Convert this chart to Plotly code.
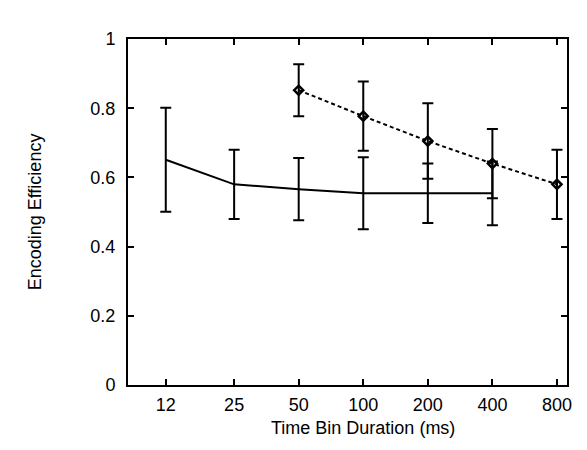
import numpy as np
import plotly.graph_objects as go

# Data
solid_x = [12, 25, 50, 100, 200, 400]
solid_y = [0.651, 0.580, 0.566, 0.554, 0.554, 0.554]
solid_err = [0.150, 0.100, 0.090, 0.104, 0.086, 0.092]

dashed_x = [50, 100, 200, 400, 800]
dashed_y = [0.852, 0.777, 0.705, 0.640, 0.580]
dashed_err = [0.075, 0.100, 0.109, 0.100, 0.100]

tick_vals = [12, 25, 50, 100, 200, 400, 800]
tick_text = ["12", "25", "50", "100", "200", "400", "800"]
y_ticks = [0, 0.2, 0.4, 0.6, 0.8, 1]
y_tick_text = ["0", "0.2", "0.4", "0.6", "0.8", "1"]

x_title = "Time Bin Duration (ms)"
y_title = "Encoding Efficiency"

FONT = "Liberation Sans, Arial, sans-serif"

fig = go.Figure()
fig.add_trace(go.Scatter(
    x=solid_x, y=solid_y, mode="lines",
    line=dict(color="black", width=2),
    error_y=dict(type="data", array=solid_err, visible=True,
                 color="black", thickness=2, width=5.5),
    showlegend=False,
))
fig.add_trace(go.Scatter(
    x=dashed_x, y=dashed_y, mode="lines+markers",
    line=dict(color="black", width=2, dash="4px,3px"),
    marker=dict(symbol="diamond-open", size=7, color="black",
                line=dict(color="black", width=2.5)),
    error_y=dict(type="data", array=dashed_err, visible=True,
                 color="black", thickness=2, width=5.5),
    showlegend=False,
))

fig.update_layout(
    width=587, height=450,
    margin=dict(l=120, r=28, t=31, b=73),
    paper_bgcolor="white", plot_bgcolor="white",
    font=dict(family=FONT, size=18, color="black"),
    annotations=[
        dict(text=x_title, xref="paper", yref="paper", x=0.535, y=-0.124,
             xanchor="center", yanchor="middle", showarrow=False,
             font=dict(family=FONT, size=18, color="black")),
        dict(text=y_title, xref="paper", yref="paper", x=-0.211, y=0.5,
             xanchor="center", yanchor="middle", textangle=-90,
             showarrow=False,
             font=dict(family=FONT, size=18, color="black")),
    ],
)
fig.update_xaxes(
    type="log", range=[np.log10(8.0), np.log10(891)],
    tickvals=tick_vals, ticktext=tick_text,
    ticks="inside", ticklen=6, tickwidth=2, tickcolor="black",
    showline=True, linewidth=2, linecolor="black", mirror="allticks",
    showgrid=False, zeroline=False, ticklabelstandoff=2,
    tickfont=dict(family=FONT, size=18),
)
fig.update_yaxes(
    range=[0, 1],
    tickvals=y_ticks, ticktext=y_tick_text,
    ticks="inside", ticklen=6, tickwidth=2, tickcolor="black",
    showline=True, linewidth=2, linecolor="black", mirror="allticks",
    showgrid=False, zeroline=False, ticklabelstandoff=7,
    tickfont=dict(family=FONT, size=18),
)

fig.write_html("out.html")
